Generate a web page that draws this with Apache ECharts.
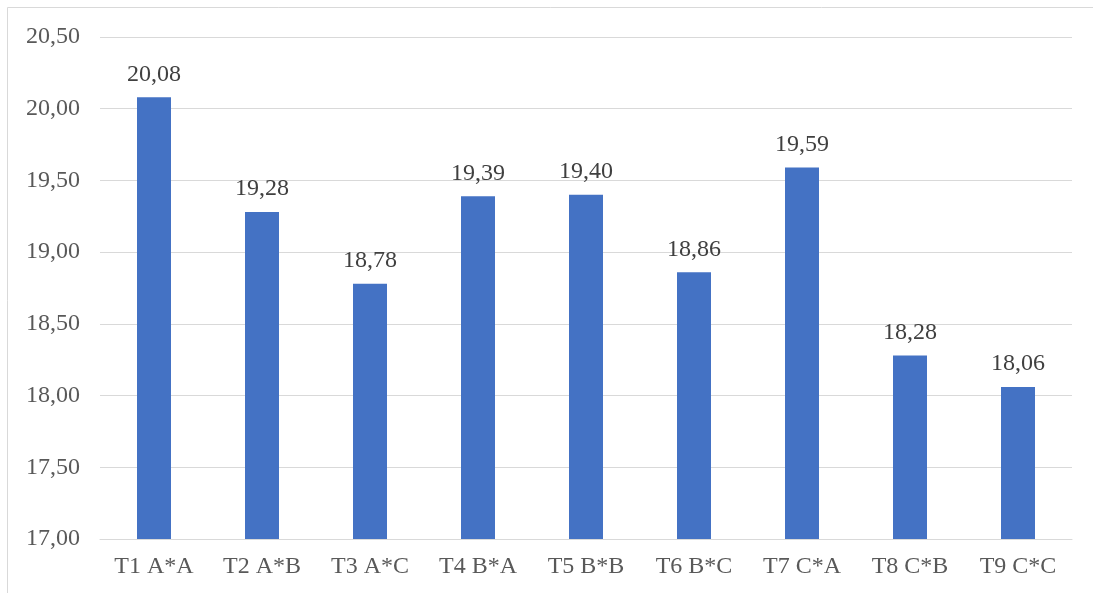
<!DOCTYPE html>
<html>
<head>
<meta charset="utf-8">
<script src="https://cdn.jsdelivr.net/npm/echarts@6/dist/echarts.min.js"></script>
<style>
  html, body { margin: 0; padding: 0; background: #ffffff; }
  #chart { width: 1093px; height: 593px; }
</style>
</head>
<body>
<div id="chart"></div>
<script>
// Treatment combinations and their measured means
const categories = ['T1 A*A', 'T2 A*B', 'T3 A*C', 'T4 B*A', 'T5 B*B', 'T6 B*C', 'T7 C*A', 'T8 C*B', 'T9 C*C'];
const values = [20.08, 19.28, 18.78, 19.39, 19.40, 18.86, 19.59, 18.28, 18.06];
const yMin = 17.0;
const yMax = 20.5;
const yStep = 0.5;

const fmt = v => v.toFixed(2).replace('.', ',');
const font = '"Liberation Serif", "Times New Roman", serif';

const chart = echarts.init(document.getElementById('chart'));
chart.setOption({
  backgroundColor: '#ffffff',
  animation: false,
  grid: { left: 100, right: 21, top: 37, bottom: 54 },
  xAxis: {
    type: 'category',
    data: categories,
    axisLine: { show: true, lineStyle: { color: '#d9d9d9', width: 1 } },
    axisTick: { show: false },
    axisLabel: { color: '#595959', fontFamily: font, fontSize: 24, margin: 16 }
  },
  yAxis: {
    type: 'value',
    min: yMin,
    max: yMax,
    interval: yStep,
    axisLine: { show: false },
    axisTick: { show: false },
    splitLine: { lineStyle: { color: '#d9d9d9', width: 1 } },
    axisLabel: { color: '#595959', fontFamily: font, fontSize: 24, margin: 20, formatter: v => fmt(v) }
  },
  series: [{
    type: 'bar',
    data: values,
    barWidth: 34,
    itemStyle: { color: '#4472c4' },
    label: {
      show: true,
      position: 'top',
      distance: 11,
      color: '#404040',
      fontFamily: font,
      fontSize: 24,
      formatter: p => fmt(p.value)
    }
  }],
  graphic: [
    { type: 'line', shape: { x1: 7.5, y1: 7.5, x2: 1093, y2: 7.5 }, style: { stroke: '#d9d9d9', lineWidth: 1 } },
    { type: 'line', shape: { x1: 7.5, y1: 7.5, x2: 7.5, y2: 593 }, style: { stroke: '#d9d9d9', lineWidth: 1 } }
  ]
});
</script>
</body>
</html>
